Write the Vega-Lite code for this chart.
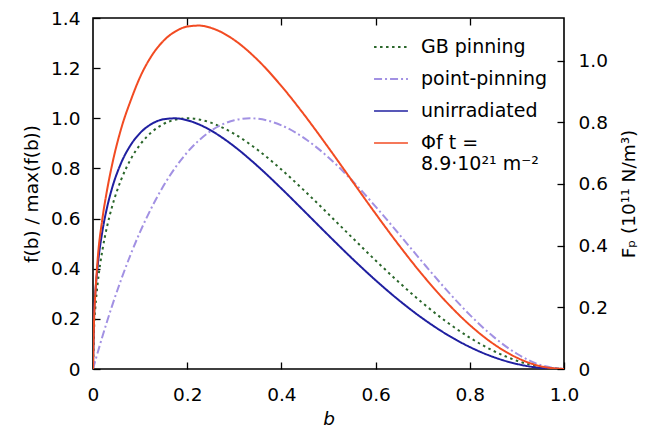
{
  "$schema": "https://vega.github.io/schema/vega-lite/v6.json",
  "width": 471,
  "height": 351,
  "autosize": {"type": "none"},
  "padding": {"left": 93, "top": 18, "right": 87, "bottom": 64},
  "config": {
    "font": "DejaVu Sans",
    "view": {"stroke": "#000000", "strokeWidth": 1.6},
    "axis": {
      "domain": false,
      "grid": false,
      "tickColor": "#000000",
      "tickWidth": 1.3,
      "tickSize": -7,
      "labelFont": "DejaVu Sans",
      "labelFontSize": 18.5,
      "labelColor": "#000000",
      "titleFont": "DejaVu Sans",
      "titleFontSize": 18.5,
      "titleFontWeight": "normal",
      "titleColor": "#000000"
    },
    "legend": {
      "labelFont": "DejaVu Sans",
      "labelFontSize": 19,
      "labelColor": "#000000"
    }
  },
  "data": {
    "values": [
      {"b": 0, "v": 0, "s": "GB pinning"},
      {"b": 0.0025, "v": 0.1738, "s": "GB pinning"},
      {"b": 0.005, "v": 0.2446, "s": "GB pinning"},
      {"b": 0.01, "v": 0.3424, "s": "GB pinning"},
      {"b": 0.02, "v": 0.4745, "s": "GB pinning"},
      {"b": 0.03, "v": 0.5694, "s": "GB pinning"},
      {"b": 0.04, "v": 0.644, "s": "GB pinning"},
      {"b": 0.06, "v": 0.7562, "s": "GB pinning"},
      {"b": 0.08, "v": 0.8364, "s": "GB pinning"},
      {"b": 0.1, "v": 0.8949, "s": "GB pinning"},
      {"b": 0.125, "v": 0.9457, "s": "GB pinning"},
      {"b": 0.15, "v": 0.9776, "s": "GB pinning"},
      {"b": 0.175, "v": 0.9948, "s": "GB pinning"},
      {"b": 0.2, "v": 1.0, "s": "GB pinning"},
      {"b": 0.225, "v": 0.9954, "s": "GB pinning"},
      {"b": 0.25, "v": 0.9826, "s": "GB pinning"},
      {"b": 0.275, "v": 0.963, "s": "GB pinning"},
      {"b": 0.3, "v": 0.9377, "s": "GB pinning"},
      {"b": 0.35, "v": 0.8733, "s": "GB pinning"},
      {"b": 0.4, "v": 0.7955, "s": "GB pinning"},
      {"b": 0.45, "v": 0.709, "s": "GB pinning"},
      {"b": 0.5, "v": 0.6176, "s": "GB pinning"},
      {"b": 0.55, "v": 0.5247, "s": "GB pinning"},
      {"b": 0.6, "v": 0.433, "s": "GB pinning"},
      {"b": 0.65, "v": 0.3451, "s": "GB pinning"},
      {"b": 0.7, "v": 0.2631, "s": "GB pinning"},
      {"b": 0.75, "v": 0.1891, "s": "GB pinning"},
      {"b": 0.8, "v": 0.125, "s": "GB pinning"},
      {"b": 0.85, "v": 0.0725, "s": "GB pinning"},
      {"b": 0.9, "v": 0.0331, "s": "GB pinning"},
      {"b": 0.95, "v": 0.0085, "s": "GB pinning"},
      {"b": 1.0, "v": 0, "s": "GB pinning"},

      {"b": 0, "v": 0, "s": "point-pinning"},
      {"b": 0.0025, "v": 0.0168, "s": "point-pinning"},
      {"b": 0.005, "v": 0.0334, "s": "point-pinning"},
      {"b": 0.01, "v": 0.0662, "s": "point-pinning"},
      {"b": 0.02, "v": 0.1297, "s": "point-pinning"},
      {"b": 0.03, "v": 0.1905, "s": "point-pinning"},
      {"b": 0.04, "v": 0.2488, "s": "point-pinning"},
      {"b": 0.06, "v": 0.3579, "s": "point-pinning"},
      {"b": 0.08, "v": 0.4571, "s": "point-pinning"},
      {"b": 0.1, "v": 0.5468, "s": "point-pinning"},
      {"b": 0.125, "v": 0.646, "s": "point-pinning"},
      {"b": 0.15, "v": 0.7315, "s": "point-pinning"},
      {"b": 0.175, "v": 0.804, "s": "point-pinning"},
      {"b": 0.2, "v": 0.864, "s": "point-pinning"},
      {"b": 0.225, "v": 0.9122, "s": "point-pinning"},
      {"b": 0.25, "v": 0.9492, "s": "point-pinning"},
      {"b": 0.275, "v": 0.9757, "s": "point-pinning"},
      {"b": 0.3, "v": 0.9923, "s": "point-pinning"},
      {"b": 0.3333, "v": 1.0, "s": "point-pinning"},
      {"b": 0.35, "v": 0.9982, "s": "point-pinning"},
      {"b": 0.4, "v": 0.972, "s": "point-pinning"},
      {"b": 0.45, "v": 0.9188, "s": "point-pinning"},
      {"b": 0.5, "v": 0.8438, "s": "point-pinning"},
      {"b": 0.55, "v": 0.7518, "s": "point-pinning"},
      {"b": 0.6, "v": 0.648, "s": "point-pinning"},
      {"b": 0.65, "v": 0.5375, "s": "point-pinning"},
      {"b": 0.7, "v": 0.4253, "s": "point-pinning"},
      {"b": 0.75, "v": 0.3164, "s": "point-pinning"},
      {"b": 0.8, "v": 0.216, "s": "point-pinning"},
      {"b": 0.85, "v": 0.1291, "s": "point-pinning"},
      {"b": 0.9, "v": 0.0608, "s": "point-pinning"},
      {"b": 0.95, "v": 0.016, "s": "point-pinning"},
      {"b": 1.0, "v": 0, "s": "point-pinning"},

      {"b": 0, "v": 0, "s": "unirradiated"},
      {"b": 0.0025, "v": 0.2244, "s": "unirradiated"},
      {"b": 0.005, "v": 0.3049, "s": "unirradiated"},
      {"b": 0.01, "v": 0.4119, "s": "unirradiated"},
      {"b": 0.02, "v": 0.5502, "s": "unirradiated"},
      {"b": 0.03, "v": 0.6455, "s": "unirradiated"},
      {"b": 0.04, "v": 0.7182, "s": "unirradiated"},
      {"b": 0.06, "v": 0.823, "s": "unirradiated"},
      {"b": 0.08, "v": 0.8934, "s": "unirradiated"},
      {"b": 0.1, "v": 0.9412, "s": "unirradiated"},
      {"b": 0.125, "v": 0.9781, "s": "unirradiated"},
      {"b": 0.15, "v": 0.9961, "s": "unirradiated"},
      {"b": 0.175, "v": 0.9998, "s": "unirradiated"},
      {"b": 0.2, "v": 0.9922, "s": "unirradiated"},
      {"b": 0.225, "v": 0.9756, "s": "unirradiated"},
      {"b": 0.25, "v": 0.9518, "s": "unirradiated"},
      {"b": 0.275, "v": 0.9221, "s": "unirradiated"},
      {"b": 0.3, "v": 0.8877, "s": "unirradiated"},
      {"b": 0.35, "v": 0.8083, "s": "unirradiated"},
      {"b": 0.4, "v": 0.7198, "s": "unirradiated"},
      {"b": 0.45, "v": 0.6268, "s": "unirradiated"},
      {"b": 0.5, "v": 0.5329, "s": "unirradiated"},
      {"b": 0.55, "v": 0.4411, "s": "unirradiated"},
      {"b": 0.6, "v": 0.354, "s": "unirradiated"},
      {"b": 0.65, "v": 0.2736, "s": "unirradiated"},
      {"b": 0.7, "v": 0.2015, "s": "unirradiated"},
      {"b": 0.75, "v": 0.1392, "s": "unirradiated"},
      {"b": 0.8, "v": 0.0877, "s": "unirradiated"},
      {"b": 0.85, "v": 0.0479, "s": "unirradiated"},
      {"b": 0.9, "v": 0.0201, "s": "unirradiated"},
      {"b": 0.95, "v": 0.0045, "s": "unirradiated"},
      {"b": 1.0, "v": 0, "s": "unirradiated"},

      {"b": 0, "v": 0, "s": "irradiated"},
      {"b": 0.0025, "v": 0.21, "s": "irradiated"},
      {"b": 0.005, "v": 0.3, "s": "irradiated"},
      {"b": 0.01, "v": 0.44, "s": "irradiated"},
      {"b": 0.02, "v": 0.6, "s": "irradiated"},
      {"b": 0.03, "v": 0.715, "s": "irradiated"},
      {"b": 0.04, "v": 0.81, "s": "irradiated"},
      {"b": 0.06, "v": 0.96, "s": "irradiated"},
      {"b": 0.08, "v": 1.0706, "s": "irradiated"},
      {"b": 0.1, "v": 1.1645, "s": "irradiated"},
      {"b": 0.125, "v": 1.2507, "s": "irradiated"},
      {"b": 0.15, "v": 1.3096, "s": "irradiated"},
      {"b": 0.175, "v": 1.3466, "s": "irradiated"},
      {"b": 0.2, "v": 1.3658, "s": "irradiated"},
      {"b": 0.225, "v": 1.3697, "s": "irradiated"},
      {"b": 0.25, "v": 1.3608, "s": "irradiated"},
      {"b": 0.275, "v": 1.3412, "s": "irradiated"},
      {"b": 0.3, "v": 1.3122, "s": "irradiated"},
      {"b": 0.35, "v": 1.2319, "s": "irradiated"},
      {"b": 0.4, "v": 1.1286, "s": "irradiated"},
      {"b": 0.45, "v": 1.0102, "s": "irradiated"},
      {"b": 0.5, "v": 0.8825, "s": "irradiated"},
      {"b": 0.55, "v": 0.7506, "s": "irradiated"},
      {"b": 0.6, "v": 0.6194, "s": "irradiated"},
      {"b": 0.65, "v": 0.4928, "s": "irradiated"},
      {"b": 0.7, "v": 0.3744, "s": "irradiated"},
      {"b": 0.75, "v": 0.2677, "s": "irradiated"},
      {"b": 0.8, "v": 0.1755, "s": "irradiated"},
      {"b": 0.85, "v": 0.1005, "s": "irradiated"},
      {"b": 0.9, "v": 0.0451, "s": "irradiated"},
      {"b": 0.95, "v": 0.0112, "s": "irradiated"},
      {"b": 1.0, "v": 0, "s": "irradiated"}
    ]
  },
  "layer": [
    {
      "mark": {"type": "line", "interpolate": "monotone", "strokeWidth": 2, "clip": true},
      "encoding": {
        "x": {
          "field": "b", "type": "quantitative",
          "scale": {"domain": [0, 1], "nice": false},
          "axis": {
            "orient": "bottom",
            "title": "b",
            "titleFontStyle": "italic",
            "titlePadding": 6,
            "values": [0, 0.2, 0.4, 0.6, 0.8, 1.0],
            "labelExpr": "datum.value == 0 ? '0' : format(datum.value, '.1f')",
            "labelPadding": 23,
            "labelFlush": false
          }
        },
        "y": {
          "field": "v", "type": "quantitative",
          "scale": {"domain": [0, 1.4], "nice": false},
          "axis": {
            "orient": "left",
            "title": "f(b) / max(f(b))",
            "titlePadding": 9,
            "values": [0, 0.2, 0.4, 0.6, 0.8, 1.0, 1.2, 1.4],
            "labelExpr": "datum.value == 0 ? '0' : format(datum.value, '.1f')",
            "labelPadding": 20,
            "labelFlush": false
          }
        },
        "color": {
          "field": "s", "type": "nominal",
          "scale": {
            "domain": ["GB pinning", "point-pinning", "unirradiated", "irradiated"],
            "range": ["#2a662a", "#a291e3", "#1f1fa0", "#f24b22"]
          },
          "legend": {
            "orient": "none",
            "legendX": 280,
            "legendY": 11,
            "title": null,
            "symbolType": "stroke",
            "symbolSize": 1150,
            "symbolStrokeWidth": 2,
            "labelOffset": 12,
            "rowPadding": 4,
            "labelExpr": "datum.label == 'irradiated' ? ['Φf t =', '8.9·10²¹ m⁻²'] : datum.label"
          }
        },
        "strokeDash": {
          "field": "s", "type": "nominal",
          "scale": {
            "domain": ["GB pinning", "point-pinning", "unirradiated", "irradiated"],
            "range": [[2.5, 3.5], [8, 3, 2, 3], [1, 0], [1, 0]]
          },
          "legend": null
        },
        "strokeWidth": {
          "field": "s", "type": "nominal",
          "scale": {
            "domain": ["GB pinning", "point-pinning", "unirradiated", "irradiated"],
            "range": [2, 1.3, 2.2, 2.2]
          },
          "legend": null
        }
      }
    },
    {
      "mark": {"type": "line", "opacity": 0, "clip": true},
      "encoding": {
        "x": {
          "field": "b", "type": "quantitative",
          "scale": {"domain": [0, 1], "nice": false},
          "axis": {
            "orient": "top",
            "title": null,
            "labels": false,
            "values": [0.2, 0.4, 0.6, 0.8]
          }
        },
        "y": {
          "field": "v", "type": "quantitative",
          "scale": {"domain": [0, 1.138], "nice": false},
          "axis": {
            "orient": "right",
            "title": "Fₚ (10¹¹ N/m³)",
            "titleAngle": 270,
            "titleBaseline": "top",
            "titlePadding": 12,
            "values": [0, 0.2, 0.4, 0.6, 0.8, 1.0],
            "labelExpr": "datum.value == 0 ? '0' : format(datum.value, '.1f')",
            "labelPadding": 21,
            "labelFlush": false
          }
        }
      }
    }
  ],
  "resolve": {
    "scale": {"y": "independent"},
    "axis": {"x": "independent", "y": "independent"}
  }
}
